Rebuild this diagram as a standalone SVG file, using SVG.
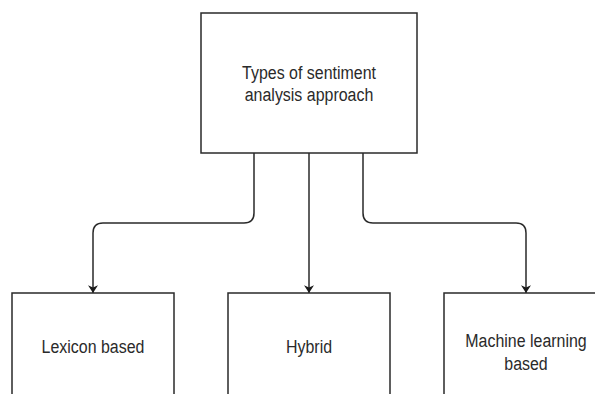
<svg xmlns="http://www.w3.org/2000/svg" width="595" height="394" viewBox="0 0 595 394">
<defs>
<style>
.box{fill:#ffffff;stroke:#2a2a2a;stroke-width:1.5}
.lbl{font-family:"Liberation Sans",Arial,sans-serif;font-size:19px;fill:#2a2a2a;text-anchor:middle}
.edge{fill:none;stroke:#2a2a2a;stroke-width:1.5}
</style>
<marker id="arr" viewBox="0 0 10 13" refX="10" refY="6.5" markerWidth="13" markerHeight="10" markerUnits="userSpaceOnUse" orient="auto">
<path d="M0,0 L10,6.5 L0,13 L3,6.5 Z" fill="#1a1a1a"/>
</marker>
</defs>
<rect width="595" height="394" fill="#ffffff"/>
<g id="connectors">
<path class="edge" d="M254,153 V213 Q254,223 244,223 H103 Q93,223 93,233 V293" marker-end="url(#arr)"/>
<path class="edge" d="M309,153 V293" marker-end="url(#arr)"/>
<path class="edge" d="M363,153 V213 Q363,223 373,223 H516 Q526,223 526,233 V293" marker-end="url(#arr)"/>
</g>
<g id="root">
<rect class="box" x="201" y="13" width="216" height="140"/>
<text class="lbl" transform="translate(309,79) scale(0.84,1)">Types of sentiment</text>
<text class="lbl" transform="translate(309,101) scale(0.84,1)">analysis approach</text>
</g>
<g id="lexicon">
<rect class="box" x="12" y="293" width="162" height="130"/>
<text class="lbl" transform="translate(93,353) scale(0.84,1)">Lexicon based</text>
</g>
<g id="hybrid">
<rect class="box" x="228" y="293" width="162" height="130"/>
<text class="lbl" transform="translate(309,353) scale(0.84,1)">Hybrid</text>
</g>
<g id="ml">
<rect class="box" x="444" y="293" width="164" height="130"/>
<text class="lbl" transform="translate(526,347) scale(0.84,1)">Machine learning</text>
<text class="lbl" transform="translate(526,370) scale(0.84,1)">based</text>
</g>
</svg>
